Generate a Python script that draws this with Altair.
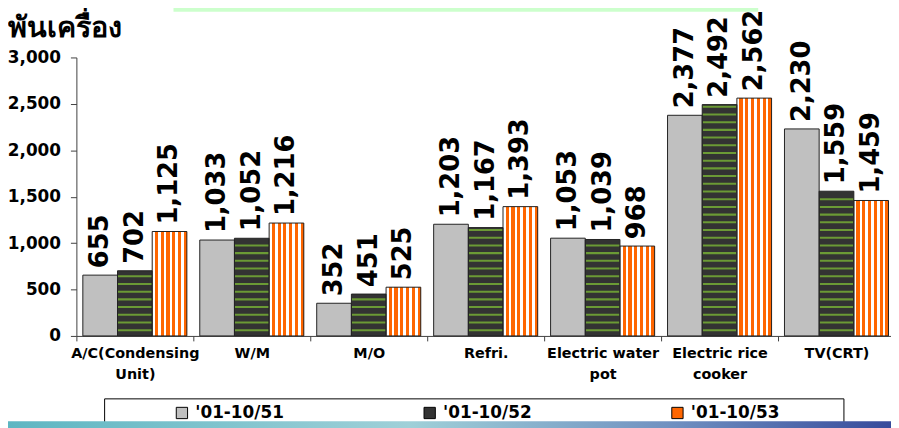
import altair as alt
import pandas as pd

categories = ["A/C(Condensing Unit)", "W/M", "M/O", "Refri.", "Electric water pot",
              "Electric rice cooker", "TV(CRT)"]
series = ["'01-10/51", "'01-10/52", "'01-10/53"]
v51 = [655, 1033, 352, 1203, 1053, 2377, 2230]
v52 = [702, 1052, 451, 1167, 1039, 2492, 1559]
v53 = [1125, 1216, 525, 1393, 968, 2562, 1459]
y_ticks = [0, 500, 1000, 1500, 2000, 2500, 3000]
y_title = "พันเครื่อง"

rows = []
for s, vals in zip(series, [v51, v52, v53]):
    for c, v in zip(categories, vals):
        rows.append({"category": c, "series": s, "value": v})
df = pd.DataFrame(rows)

FONT = "DejaVu Sans"

x = alt.X("category:N", sort=categories, scale=alt.Scale(domain=categories, paddingInner=0, paddingOuter=0),
          axis=alt.Axis(title=None, tickBand="extent", labelAngle=0, labelFont=FONT, labelFontSize=14.5,
                        labelFontWeight="bold", labelColor="black", labelLineHeight=20.5,
                        labelPadding=6, tickSize=5, tickColor="#404040", domainColor="#404040",
                        labelLimit=200,
                        labelExpr="lastindexof(datum.label,' ') > 0 ? [substring(datum.label,0,lastindexof(datum.label,' ')), substring(datum.label,lastindexof(datum.label,' ')+1)] : datum.label"))
xo = alt.XOffset("series:N", sort=series, scale=alt.Scale(domain=series, paddingInner=0, paddingOuter=0.186))
y = alt.Y("value:Q", scale=alt.Scale(domain=[0, 3000], nice=False),
          axis=alt.Axis(values=y_ticks, format=",.0f", grid=False, labelFont=FONT, labelFontSize=17,
                        labelFontWeight="bold", labelColor="black", labelPadding=10, tickSize=6,
                        tickColor="#404040", domainColor="#404040",
                        title=y_title, titleAngle=0, titleAlign="left", titleBaseline="alphabetic",
                        titleX=-69, titleY=-21, titleFont=FONT, titleFontSize=29, titleFontWeight="bold",
                        titleColor="black"))

base = alt.Chart(df)

bars = base.mark_bar(strokeWidth=0).encode(
    x=x, xOffset=xo, y=y,
    color=alt.Color("series:N", sort=series,
                    scale=alt.Scale(domain=series, range=["#c0c0c0", "#333333", "#ff6600"]),
                    legend=alt.Legend(title=None, orient="none", legendX=98, legendY=350, direction="horizontal",
                                      columns=3, columnPadding=138, padding=0, symbolType="square",
                                      symbolSize=130, symbolStrokeColor="black", symbolStrokeWidth=1,
                                      labelFont=FONT, labelFontSize=17, labelFontWeight="bold",
                                      labelColor="black", labelOffset=5, labelLimit=200)),
)

stops = []
n = 6
for k in range(n):
    a = k / n
    b = (k + 0.45) / n
    c = (k + 1) / n
    stops += [{"offset": a, "color": "#ffffff"}, {"offset": b, "color": "#ffffff"},
              {"offset": b, "color": "#ff6600"}, {"offset": c, "color": "#ff6600"}]
grad = {"gradient": "linear", "x1": 0, "x2": 1, "y1": 0, "y2": 0, "stops": stops}

orange = base.transform_filter(alt.datum.series == series[2]).mark_bar(fill=grad, strokeWidth=0).encode(
    x=x, xOffset=xo, y=y)

stripes = base.transform_filter(alt.datum.series == series[1]).transform_calculate(
    stripe="sequence(62, datum.value - 12, 83)"
).transform_flatten(["stripe"]).transform_calculate(
    s1="datum.stripe - 11", s2="datum.stripe + 11"
).mark_bar(color="#6b9a35", strokeWidth=0).encode(
    x=x, xOffset=xo, y="s1:Q", y2="s2:Q")

outline = base.mark_bar(fillOpacity=0, stroke="#222222", strokeWidth=1).encode(
    x=x, xOffset=xo, y=y)

labels = base.mark_text(angle=270, align="left", baseline="middle", dx=7, font=FONT, fontSize=26,
                        fontWeight="bold", color="black").encode(
    x=x, xOffset=xo, y=y, text=alt.Text("value:Q", format=","))

one = alt.Data(values=[{"a": 1}])
legend_box = alt.Chart(one).mark_rect(fill="white", stroke="black", strokeWidth=1).encode(
    x=alt.value(28.5), x2=alt.value(774.5), y=alt.value(344.5), y2=alt.value(380))
band = alt.Chart(one).mark_rect(fill={"gradient": "linear", "x1": 0, "x2": 1, "y1": 0, "y2": 0,
                                      "stops": [{"offset": 0, "color": "#5db6c2"},
                                                {"offset": 0.45, "color": "#9fd0d8"},
                                                {"offset": 0.75, "color": "#6f8fc0"},
                                                {"offset": 1, "color": "#34489a"}]}).encode(
    x=alt.value(-69), x2=alt.value(830), y=alt.value(367), y2=alt.value(380))
green_box = alt.Chart(one).mark_rect(fill="#ccffcc").encode(
    x=alt.value(98), x2=alt.value(688), y=alt.value(-56), y2=alt.value(-46))

chart = alt.layer(green_box, legend_box, band, bars, orange, stripes, outline, labels).properties(
    width=826, height=281,
    padding={"left": 69, "top": 48, "right": -4, "bottom": 91},
    autosize=alt.AutoSizeParams(type="none"),
).configure_view(stroke=None)

chart.save("out.html", embed_options={"renderer": "svg", "actions": False})
